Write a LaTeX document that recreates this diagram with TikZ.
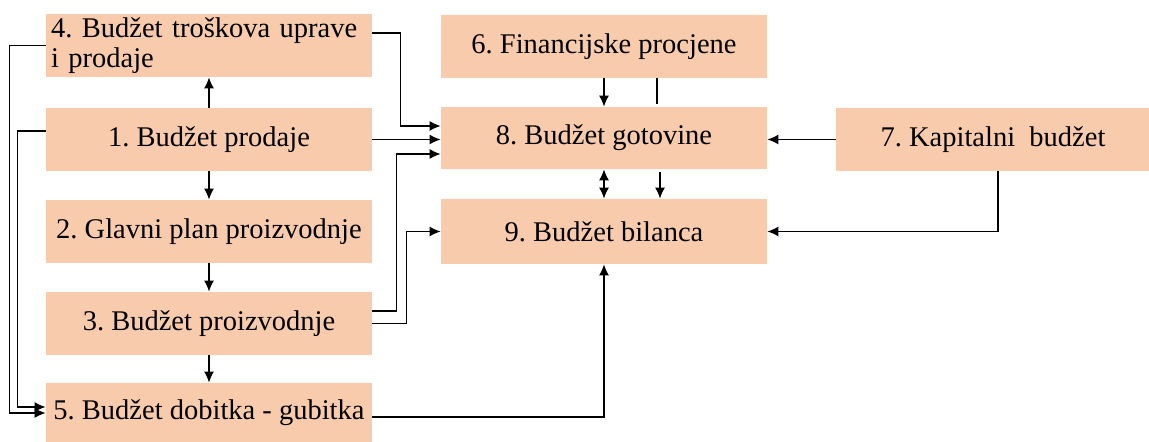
\documentclass[tikz,border=0pt]{standalone}
\usepackage{fontspec}
\setmainfont{Liberation Serif}
\usetikzlibrary{arrows.meta}
\definecolor{breskva}{HTML}{F8CBAD}
\frenchspacing
\def\sirina{163pt}
\def\visina{31.5pt}
\def\lijevo{209}
\def\desno{604}
\tikzset{
    blok/.style={fill=breskva, minimum width=\sirina, minimum height=\visina, inner sep=0pt,
        font=\fontsize{14.25}{15}\selectfont},
    vrh/.tip={Latex[length=5.5pt,width=5pt]},
    veza/.style={line width=0.65pt, -vrh},
}
\newcommand{\stavka}[4][]{
    \node[blok,#1] (#2) at (#3) {#4};
}

\begin{document}
\begin{tikzpicture}[x=0.5pt,y=-0.5pt]
    \useasboundingbox (0,0) rectangle (1149,442);
    % lijevi stupac
    \stavka[text width=158pt,align=left]{n4}{\lijevo,45.5}{4. Budžet troškova uprave\\i prodaje}
    \stavka{n1}{\lijevo,139.5}{1. Budžet prodaje}
    \stavka{n2}{\lijevo,231.5}{2. Glavni plan proizvodnje}
    \stavka{n3}{\lijevo,323.5}{3. Budžet proizvodnje}
    \stavka[minimum height=29.5pt]{n5}{\lijevo,412.5}{5. Budžet dobitka - gubitka}
    % desni dio
    \stavka{n6}{\desno,46.5}{6. Financijske procjene}
    \stavka[minimum height=31pt]{n8}{\desno,138}{8. Budžet gotovine}
    \stavka[minimum height=32.5pt]{n9}{\desno,231.5}{9. Budžet bilanca}
    \stavka[minimum width=157pt]{n7}{993,139.5}{7. Kapitalni\ \ budžet}
    % veze
    \draw[veza] (n1) -- (n4);
    \draw[veza] (n1) -- (n2);
    \draw[veza] (n2) -- (n3);
    \draw[veza] (n3) -- (n5);
    \draw[veza] (n6) -- (n8);
    \draw[line width=0.65pt, shorten >=1.5pt] ([xshift=26.5pt]n6.south) -- ([xshift=26.5pt]n8.north);
    \draw[veza, vrh-vrh] (n8) -- (n9);
    \draw[veza, shorten <=1.5pt] ([xshift=28pt]n8.south) -- ([xshift=28pt]n9.north);
    \draw[veza] ([yshift=6.25pt]n4.east) -- ++(14pt,0) |- ([yshift=6pt]n8.west);
    \draw[veza] (n1.east) -- (n1.east -| n8.west);
    \draw[veza] ([yshift=6.25pt]n3.east) -- ++(12pt,0) |- ([yshift=-8pt]n8.west);
    \draw[veza] (n3.east) -- ++(17pt,0) |- (n9.west);
    \draw[veza] (n4.west) -- ++(-18pt,0) |- ([yshift=-0.25pt]n5.west);
    \draw[veza] ([yshift=4.25pt]n1.west) -- ++(-14pt,0) |- ([yshift=2.75pt]n5.west);
    \draw[veza] ([yshift=-2.25pt]n5.east) -| (n9.south);
    \draw[veza] (n7.west) -- (n7.west -| n8.east);
    \draw[veza] ([xshift=2.5pt]n7.south) |- (n9.east);
\end{tikzpicture}
\end{document}
